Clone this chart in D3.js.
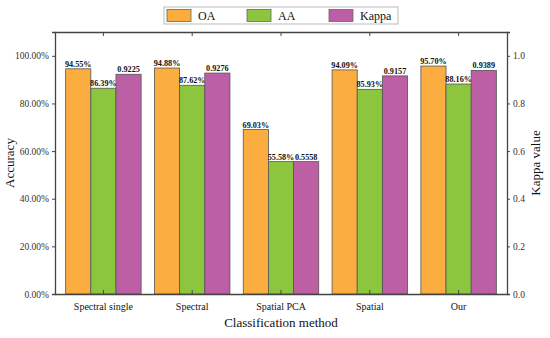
<!DOCTYPE html>
<html>
<head>
<meta charset="utf-8">
<script src="https://cdn.jsdelivr.net/npm/d3@7"></script>
<style>
  body { margin: 0; background: #fff; }
  text { font-family: "Liberation Serif", "Times New Roman", serif; }
</style>
</head>
<body>
<svg width="550" height="338"></svg>
<script>
// categories and series
const methods = ["Spectral single", "Spectral", "Spatial PCA", "Spatial", "Our"];
const oa = [94.55, 94.88, 69.03, 94.09, 95.70];
const aa = [86.39, 87.62, 55.58, 85.93, 88.16];
const kappa = [0.9225, 0.9276, 0.5558, 0.9157, 0.9389];
const leftTicks = [0, 20, 40, 60, 80, 100];
const rightTicks = [0, 0.2, 0.4, 0.6, 0.8, 1.0];

const series = [
    { key: "OA", color: "#fbad3f", values: oa, axis: "left", fmt: d => d.toFixed(2) + "%" },
    { key: "AA", color: "#8cc63f", values: aa, axis: "left", fmt: d => d.toFixed(2) + "%" },
    { key: "Kappa", color: "#bd5fa5", values: kappa, axis: "right", fmt: d => d.toFixed(4) }
];

const svg = d3.select("svg");
const margin = { left: 55, right: 43, top: 32, bottom: 44 };
const width = 550, height = 338;
const innerW = width - margin.left - margin.right;
const innerH = height - margin.top - margin.bottom;

const g = svg.append("g").attr("transform", `translate(${margin.left},${margin.top})`);

const x = d3.scaleBand().domain(methods).range([0, innerW])
    .paddingInner(0.15).paddingOuter(0.12);
const xs = d3.scaleBand().domain(series.map(s => s.key)).range([0, x.bandwidth()]);
const yL = d3.scaleLinear().domain([0, 110]).range([innerH, 0]);
const yR = d3.scaleLinear().domain([0, 1.1]).range([innerH, 0]);

// bars
series.forEach(s => {
    const y = s.axis === "left" ? yL : yR;
    const grp = g.append("g");
    grp.selectAll("rect")
        .data(s.values)
        .enter().append("rect")
        .attr("x", (d, i) => x(methods[i]) + xs(s.key))
        .attr("y", d => y(d))
        .attr("width", xs.bandwidth())
        .attr("height", d => innerH - y(d))
        .attr("fill", s.color)
        .attr("stroke", "#555")
        .attr("stroke-width", 0.8);
    grp.selectAll("text")
        .data(s.values)
        .enter().append("text")
        .attr("x", (d, i) => x(methods[i]) + xs(s.key) + xs.bandwidth() / 2)
        .attr("y", d => y(d) - 2)
        .attr("text-anchor", "middle")
        .attr("font-size", 8.2)
        .attr("font-weight", "bold")
        .attr("fill", "#111")
        .text(d => s.fmt(d));
});

// axes
const axisColor = "#444";
const leftAxis = g.append("g")
    .call(d3.axisLeft(yL).tickValues(leftTicks).tickSize(3).tickFormat(d => d.toFixed(2) + "%"));
const rightAxis = g.append("g").attr("transform", `translate(${innerW},0)`)
    .call(d3.axisRight(yR).tickValues(rightTicks).tickSize(3).tickFormat(d3.format(".1f")));
const bottomAxis = g.append("g").attr("transform", `translate(0,${innerH})`)
    .call(d3.axisBottom(x).tickSize(-4).tickPadding(9).tickSizeOuter(0));
const topAxis = g.append("g")
    .call(d3.axisTop(x).tickSize(-4).tickFormat("").tickSizeOuter(0));

[leftAxis, rightAxis, bottomAxis, topAxis].forEach(a => {
    a.selectAll("path").attr("stroke", axisColor).attr("stroke-width", 1.3);
    a.selectAll("line").attr("stroke", axisColor);
    a.selectAll("text").attr("font-family", "Liberation Serif, serif").attr("fill", "#333").attr("font-size", 9.5);
});
bottomAxis.selectAll("text").attr("font-size", 10).attr("fill", "#111");

// axis titles
svg.append("text")
    .attr("transform", `translate(14,${margin.top + innerH / 2}) rotate(-90)`)
    .attr("text-anchor", "middle").attr("font-size", 13).attr("fill", "#111")
    .text("Accuracy");
svg.append("text")
    .attr("transform", `translate(540,${margin.top + innerH / 2}) rotate(-90)`)
    .attr("text-anchor", "middle").attr("font-size", 13).attr("fill", "#111")
    .text("Kappa value");
svg.append("text")
    .attr("x", margin.left + innerW / 2).attr("y", 327)
    .attr("text-anchor", "middle").attr("font-size", 13).attr("fill", "#111")
    .text("Classification method");

// legend
const legend = svg.append("g").attr("transform", "translate(164,7)");
legend.append("rect").attr("width", 234).attr("height", 17)
    .attr("fill", "#fff").attr("stroke", "#aaa").attr("stroke-width", 0.8);
const legendX = [3, 83, 165];
series.forEach((s, i) => {
    legend.append("rect")
        .attr("x", legendX[i]).attr("y", 2.5).attr("width", 24).attr("height", 12)
        .attr("fill", s.color).attr("stroke", "#666").attr("stroke-width", 0.8);
    legend.append("text")
        .attr("x", legendX[i] + 31).attr("y", 13)
        .attr("font-size", 12).attr("fill", "#111")
        .text(s.key);
});
</script>
</body>
</html>
